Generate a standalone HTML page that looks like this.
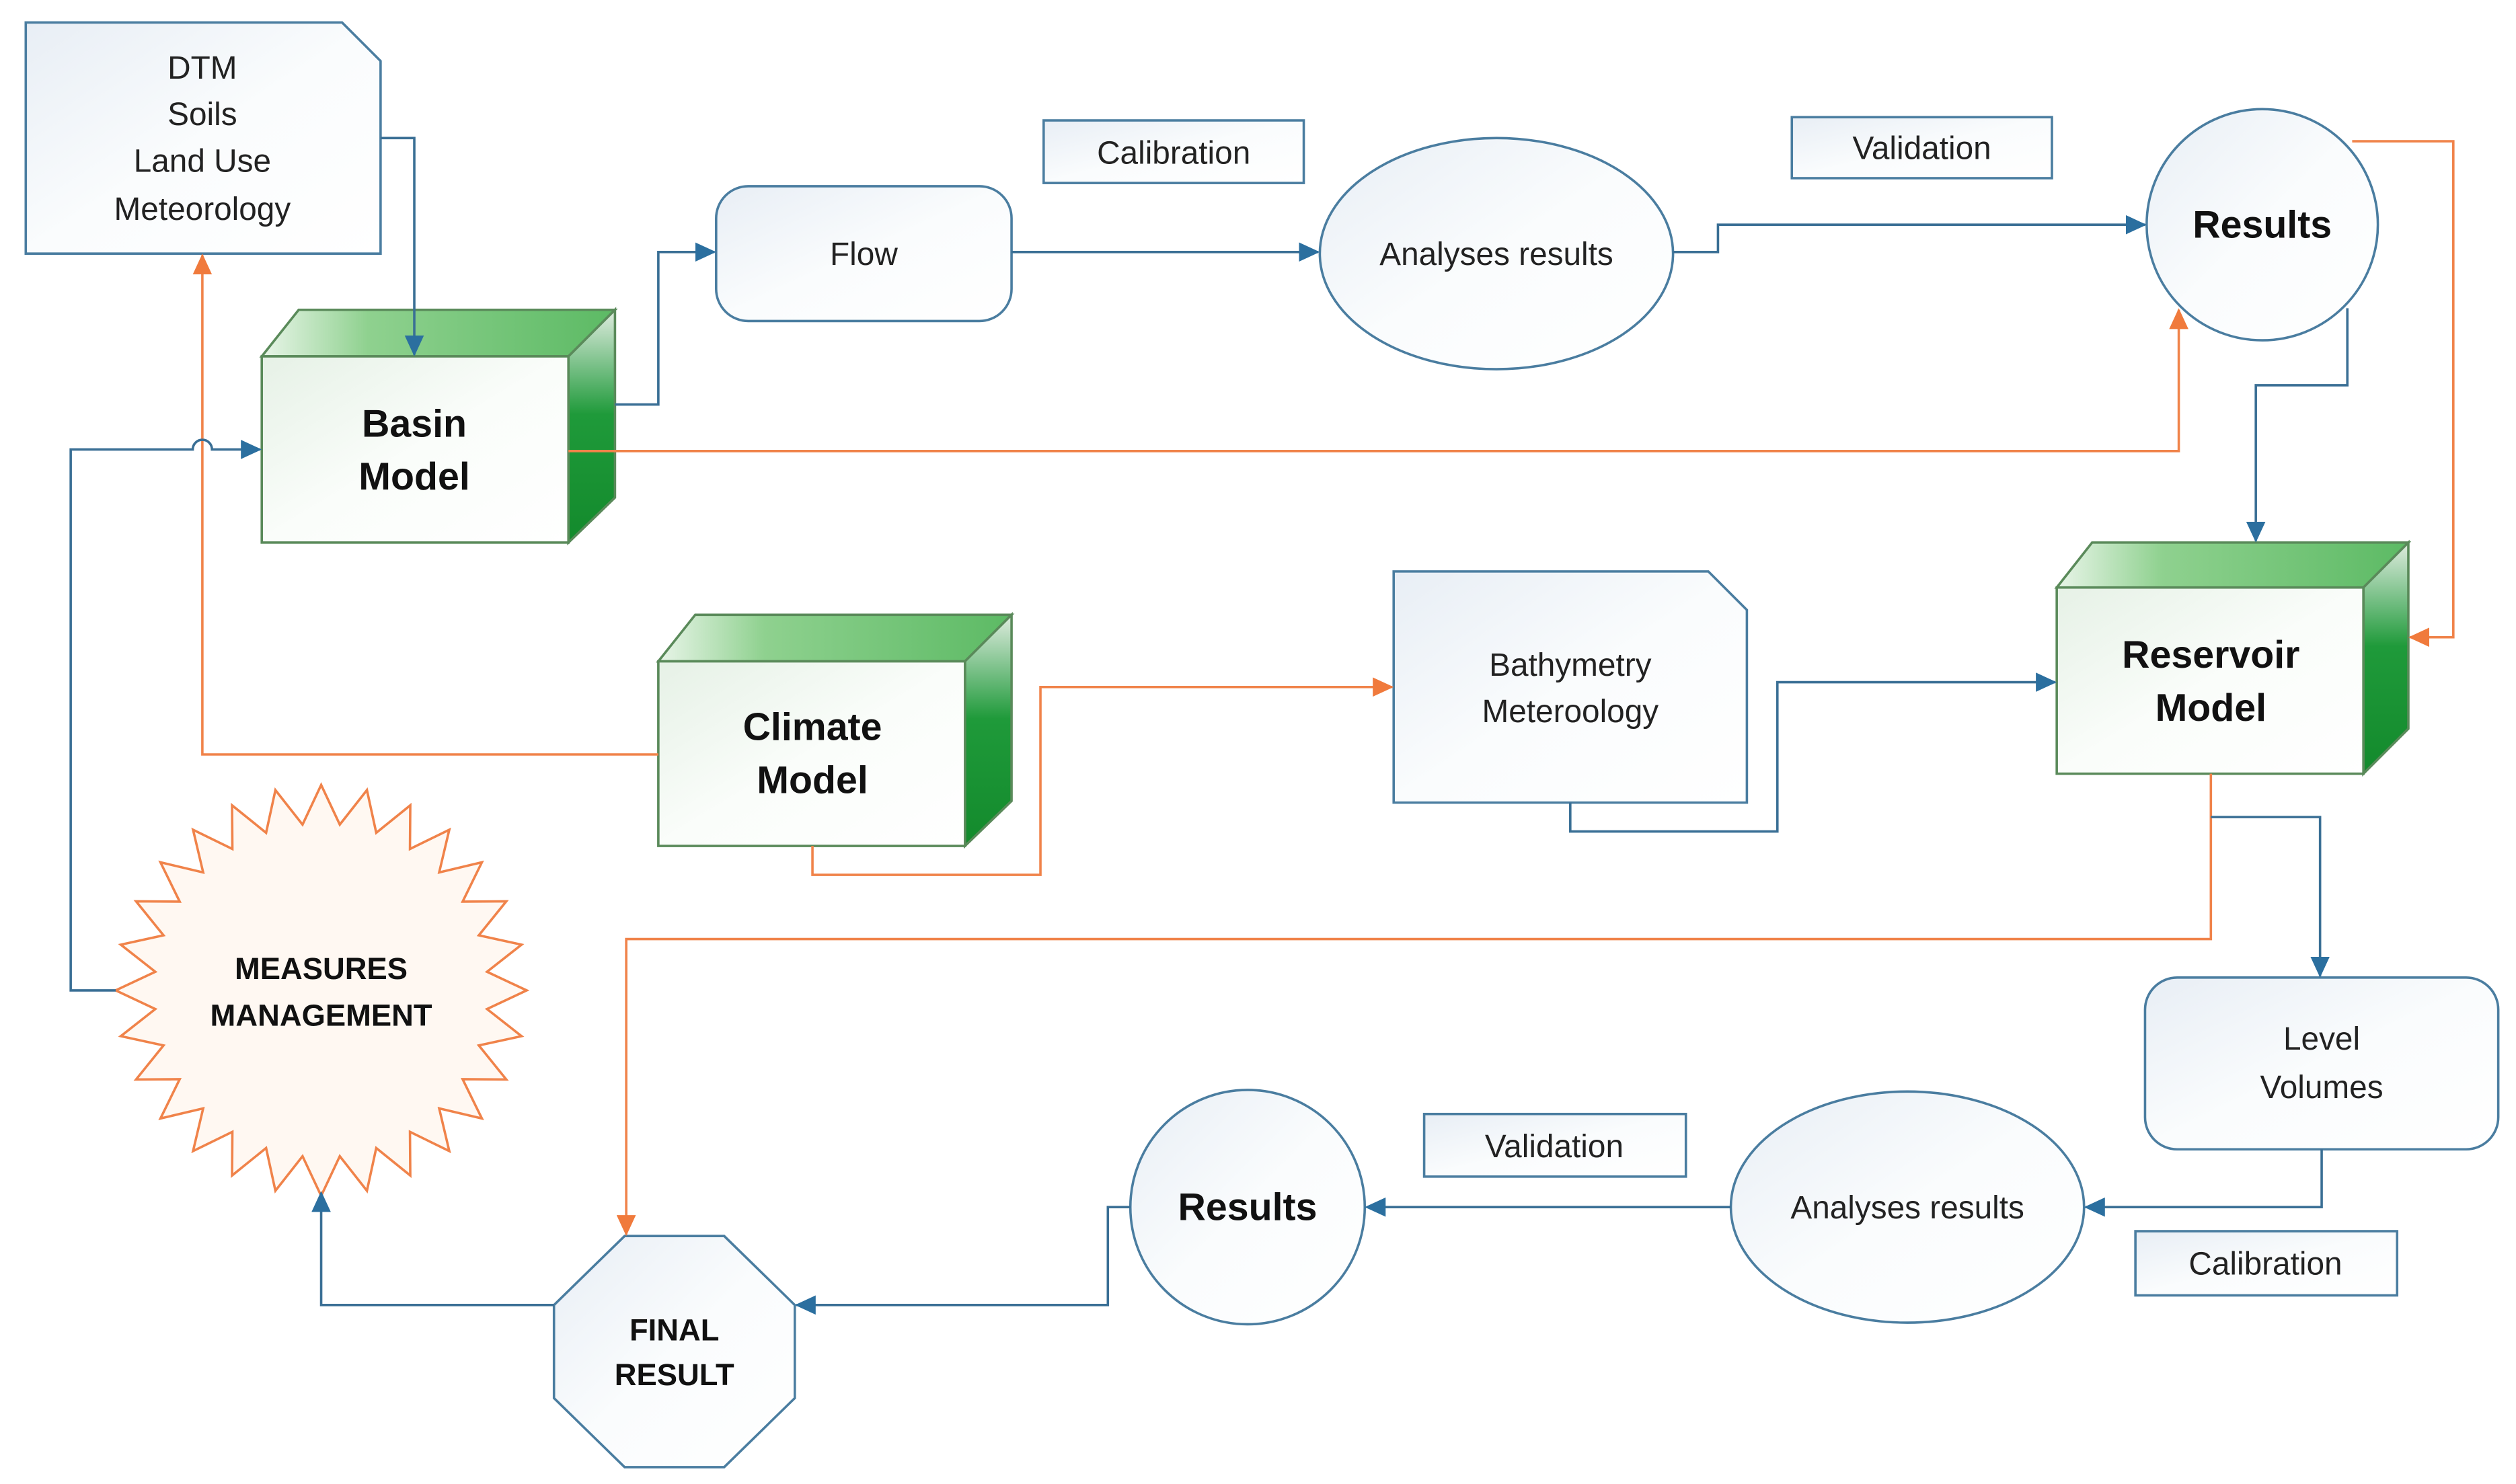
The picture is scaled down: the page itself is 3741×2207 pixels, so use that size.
<!DOCTYPE html>
<html><head><meta charset="utf-8"><style>html,body{margin:0;padding:0;background:#fff}svg{display:block}</style></head><body>
<svg width="3741" height="2207" viewBox="0 0 1567 924.5" xmlns="http://www.w3.org/2000/svg" font-family="'Liberation Sans', sans-serif">
<defs>
<linearGradient id="doc" x1="0" y1="0" x2="1" y2="1"><stop offset="0" stop-color="#e8eef5"/><stop offset="0.5" stop-color="#fafcfd"/><stop offset="1" stop-color="#ffffff"/></linearGradient>
<linearGradient id="front" x1="0" y1="0" x2="1" y2="1"><stop offset="0" stop-color="#e6f1e6"/><stop offset="0.5" stop-color="#fafdfa"/><stop offset="1" stop-color="#ffffff"/></linearGradient>
<linearGradient id="top" x1="0" y1="0" x2="1" y2="0"><stop offset="0" stop-color="#e9f5e9"/><stop offset="0.3" stop-color="#8fd18f"/><stop offset="1" stop-color="#5cba64"/></linearGradient>
<linearGradient id="side" x1="0" y1="0" x2="0" y2="1"><stop offset="0" stop-color="#e0ece0"/><stop offset="0.45" stop-color="#1f9a3a"/><stop offset="1" stop-color="#138a2c"/></linearGradient>
<marker id="ab" markerWidth="13" markerHeight="12" refX="12" refY="6" orient="auto" markerUnits="userSpaceOnUse"><path d="M0,0 L13,6 L0,12 z" fill="#2b6f9f"/></marker>
<marker id="ao" markerWidth="13" markerHeight="12" refX="12" refY="6" orient="auto" markerUnits="userSpaceOnUse"><path d="M0,0 L13,6 L0,12 z" fill="#f07a3c"/></marker>
</defs>
<path d="M16,14 H213 L237,38 V158 H16 Z" fill="url(#doc)" stroke="#4a7da0" stroke-width="1.5"/>
<g stroke="#5a8a5a" stroke-width="1.5">
<path d="M163,222 L186,193 H383 L354,222 Z" fill="url(#top)"/>
<path d="M354,222 L383,193 V310 L354,338 Z" fill="url(#side)"/>
<rect x="163" y="222" width="191" height="116" fill="url(#front)"/>
<path d="M410,412 L433,383 H630 L601,412 Z" fill="url(#top)"/>
<path d="M601,412 L630,383 V499 L601,527 Z" fill="url(#side)"/>
<rect x="410" y="412" width="191" height="115" fill="url(#front)"/>
<path d="M1281,366 L1303,338 H1500 L1472,366 Z" fill="url(#top)"/>
<path d="M1472,366 L1500,338 V454 L1472,482 Z" fill="url(#side)"/>
<rect x="1281" y="366" width="191" height="116" fill="url(#front)"/>
</g>
<g stroke="#4a7da0" stroke-width="1.5" fill="url(#doc)">
<rect x="446" y="116" width="184" height="84" rx="20"/>
<rect x="650" y="75" width="162" height="39"/>
<rect x="1116" y="73" width="162" height="38"/>
<ellipse cx="932" cy="158" rx="110" ry="72"/>
<circle cx="1409" cy="140" r="72"/>
<path d="M868,356 H1064 L1088,380 V500 H868 Z"/>
<rect x="1336" y="609" width="220" height="107" rx="20"/>
<ellipse cx="1188" cy="752" rx="110" ry="72"/>
<rect x="887" y="694" width="163" height="39"/>
<rect x="1330" y="767" width="163" height="40"/>
<circle cx="777" cy="752" r="73"/>
<path d="M389,770 H451 L495,813 V871 L451,914 H389 L345,871 V813 Z"/>
</g>
<path id="star" fill="#fff8f2" stroke="#f0834a" stroke-width="1.5" d=""/>
<script>
(function(){var cx=200,cy=617,n=28,R=128,r=104,d="";for(var i=0;i<2*n;i++){var a=Math.PI*i/n-Math.PI/2;var rr=i%2?r:R;d+=(i?"L":"M")+(cx+rr*Math.cos(a)).toFixed(1)+","+(cy+rr*Math.sin(a)).toFixed(1);}document.getElementById("star").setAttribute("d",d+"Z");})();
</script>
<g fill="none" stroke-width="1.5">
<g stroke="#f0834a" marker-end="url(#ao)">
<path d="M354,281 H1357 V193"/>
<path d="M1465,88 H1528 V397 H1501"/>
<path d="M410,470 H126 V159"/>
<path d="M506,527 V545 H648 V428 H867"/>
<path d="M1377,482 V585 H390 V769"/>
</g>
<g stroke="#3a6f95" marker-end="url(#ab)">
<path d="M237,86 H258 V221"/>
<path d="M383,252 H410 V157 H445"/>
<path d="M630,157 H821"/>
<path d="M1042,157 H1070 V140 H1336"/>
<path d="M1462,192 V240 H1405 V337"/>
<path d="M978,500 V518 H1107 V425 H1280"/>
<path d="M1377,509 H1445 V608"/>
<path d="M1446,716 V752 H1299"/>
<path d="M1078,752 H851"/>
<path d="M704,752 H690 V813 H496"/>
<path d="M345,813 H200 V743"/>
<path d="M72,617 H44 V280 H120 A6,6 0 0 1 132,280 H162"/>
</g>
</g>
<g font-size="24" font-weight="bold" fill="#111" text-anchor="middle">
<text x="258" y="272">Basin</text><text x="258" y="305">Model</text>
<text x="506" y="461">Climate</text><text x="506" y="494">Model</text>
<text x="1377" y="416">Reservoir</text><text x="1377" y="449">Model</text>
<text x="1409" y="148">Results</text>
<text x="777" y="760">Results</text>
</g>
<g font-size="20" fill="#222" text-anchor="middle">
<text x="126" y="49">DTM</text><text x="126" y="78">Soils</text><text x="126" y="107">Land Use</text><text x="126" y="137">Meteorology</text>
<text x="538" y="165">Flow</text>
<text x="731" y="102">Calibration</text>
<text x="1197" y="99">Validation</text>
<text x="932" y="165">Analyses results</text>
<text x="978" y="421">Bathymetry</text><text x="978" y="450">Meteroology</text>
<text x="1446" y="654">Level</text><text x="1446" y="684">Volumes</text>
<text x="1188" y="759">Analyses results</text>
<text x="968" y="721">Validation</text>
<text x="1411" y="794">Calibration</text>
</g>
<g font-size="19" font-weight="bold" fill="#111" text-anchor="middle">
<text x="200" y="610">MEASURES</text><text x="200" y="639">MANAGEMENT</text>
<text x="420" y="835">FINAL</text><text x="420" y="863">RESULT</text>
</g>
</svg>
</body></html>
